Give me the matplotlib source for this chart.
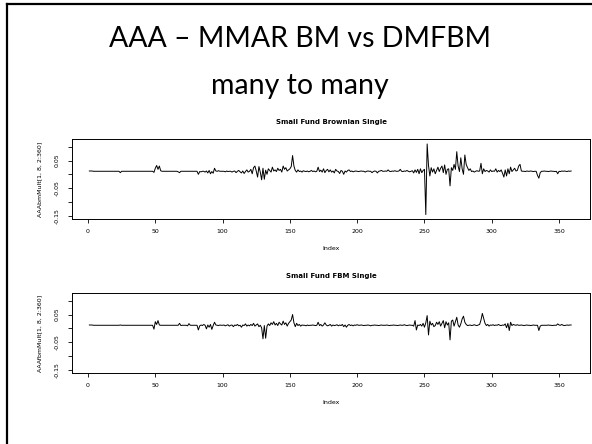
import matplotlib
matplotlib.use("Agg")
import matplotlib.pyplot as plt
from matplotlib.lines import Line2D
import numpy as np

# --- Daten (Werte x 1000) ---
bm_vals = [
    12, 12, 12, 11, 11, 11, 11, 11, 11, 11, 11, 11, 11, 11, 11, 11, 11, 11, 11, 11,
    11, 11, 11, 6, 11, 11, 11, 11, 11, 11, 11, 11, 11, 11, 11, 11, 11, 11, 11, 11,
    11, 11, 11, 11, 11, 11, 11, 11, 7, 22, 32, 18, 30, 13, 11, 11, 11, 11, 11, 11,
    11, 11, 11, 11, 11, 11, 9, 6, 11, 11, 11, 11, 11, 11, 11, 11, 11, 11, 11, 11,
    11, 0, 10, 9, 11, 11, 8, 12, 5, 14, 2, 10, 4, 22, 12, 11, 13, 11, 11, 11,
    11, 9, 12, 10, 11, 11, 8, 11, 12, 6, 11, 14, 9, 5, 12, 3, 10, 16, 8, 11,
    18, 2, 24, 30, 12, -10, 28, 8, -20, 22, -18, 15, 0, 20, 14, 8, 26, 12, 16, 10,
    22, 14, 18, 8, 30, 18, 24, 12, 16, 20, 28, 68, 30, 14, 8, 16, 10, 12, 8, 13,
    11, 10, 12, 9, 11, 14, 10, 12, 9, 11, 26, 10, 15, 8, 20, 6, 14, 18, 9, 16,
    8, 12, 5, 18, 12, 10, 3, 14, 11, 0, 12, 8, 14, 16, 10, 12, 9, 11, 12, 11,
    10, 11, 12, 11, 11, 8, 11, 12, 11, 11, 6, 10, 12, 11, 5, 11, 12, 14, 11, 11,
    12, 11, 16, 11, 10, 12, 11, 13, 11, 11, 12, 18, 11, 10, 12, 11, 14, 11, 9, 11,
    13, 5, 16, 7, 18, 2, 20, 6, 14, 18, -146, 110, 32, -6, 24, 8, 20, 2, 14, 26,
    10, 22, 30, 6, 34, 0, 18, 20, -42, 24, 14, 36, 18, 82, 30, 10, 60, 20, 0, 70,
    36, 24, 14, 20, 10, 12, 8, 11, 13, 11, 12, 40, 2, 20, 10, 14, 12, 8, 16, 10,
    12, 11, 20, 8, 14, 10, 16, 4, -10, 16, -6, 20, 2, 26, 10, 16, 22, 12, 14, 30,
    36, 12, 11, 11, 10, 12, 11, 11, 12, 11, 10, 11, 11, -4, -14, 6, 11, 11, 12, 11,
    11, 10, 11, 12, 11, 11, 10, 11, 2, 11, 10, 12, 11, 12, 11, 10, 12, 11, 12,
]

fbm_vals = [
    12, 12, 12, 11, 11, 11, 11, 11, 11, 11, 11, 11, 11, 11, 11, 11, 11, 11, 11, 11,
    11, 11, 11, 12, 11, 11, 11, 11, 11, 11, 11, 11, 11, 11, 11, 11, 11, 11, 11, 11,
    11, 11, 11, 11, 11, 11, 11, 11, -3, 24, 14, 28, 12, 11, 11, 11, 11, 11, 11, 11,
    11, 11, 11, 11, 11, 11, 11, 18, 10, 11, 11, 11, 11, 9, 17, 11, 11, 11, 11, 11,
    11, -6, 9, 12, 10, 14, 11, -2, 12, 4, 14, -4, 10, 22, 12, 11, 10, 12, 11, 11,
    12, 9, 11, 13, 8, 11, 12, 6, 12, 10, 14, 9, 11, 4, 12, 10, 16, 8, 12, 9,
    14, 10, 18, 8, 12, 16, 6, 11, 2, -38, 10, -36, 8, 16, 10, 20, 14, 24, 12, 18,
    10, 22, 16, 12, 26, 14, 20, 8, 18, 24, 30, 50, 20, 6, 18, 10, 14, 8, 12, 11,
    11, 9, 12, 10, 11, 11, 12, 11, 10, 11, 22, 10, 14, 8, 12, 20, 12, 9, 11, 14,
    8, 12, 10, 11, 13, 9, 12, 10, 14, 6, 12, 4, 11, 14, 10, 12, 9, 12, 11, 13,
    11, 11, 12, 11, 10, 11, 11, 12, 11, 9, 11, 11, 12, 11, 11, 10, 11, 12, 11, 11,
    11, 12, 11, 10, 11, 11, 12, 11, 11, 10, 11, 12, 11, 11, 13, 11, 10, 11, 12, 11,
    11, 8, 28, -6, 12, 10, 14, 8, 18, 4, 20, 46, -24, 26, 12, 18, 6, 10, 22, 14,
    24, 8, 18, 28, 2, 24, 12, 20, -42, 26, 30, 8, 24, 40, 12, 4, 16, 34, 44, 22,
    14, 10, 11, 12, 10, 11, 13, 11, 10, 12, 14, 30, 54, 36, 18, 10, 14, 8, 12, 11,
    13, 10, 12, 11, 14, 11, 10, 12, 11, 16, 2, 18, -8, 22, 10, 14, 12, 11, 13, 11,
    11, 12, 11, 10, 11, 12, 11, 11, 10, 11, 12, 11, 11, 11, -8, 8, 11, 11, 11, 11,
    11, 12, 11, 11, 10, 11, 11, 11, 16, 12, 11, 14, 11, 10, 11, 12, 11, 12, 12,
]

x_ticks = [0, 50, 100, 150, 200, 250, 300, 350]
y_ticks = [-0.15, -0.10, -0.05, 0.0, 0.05, 0.10]
y_ticklabels = ["-0.15", "", "-0.05", "", "0.05", ""]

panels = [
    ("Small Fund Brownian Single", "AAAbmMult[1, 8, 2:360]", bm_vals),
    ("Small Fund FBM Single", "AAAfbmMult[1, 8, 2:360]", fbm_vals),
]

# --- Layout ---
W, H = 592, 444
fig = plt.figure(figsize=(W / 100, H / 100), dpi=100)

# Folienrahmen (oben und links)
fig.add_artist(Line2D([7 / W, 7 / W], [0, 1 - 4 / H], color="black", lw=1.6))
fig.add_artist(Line2D([7 / W, 1], [1 - 4 / H, 1 - 4 / H], color="black", lw=1.6))

fig.text(300 / W, 1 - 39 / H, "AAA \u2013 MMAR BM vs DMFBM", ha="center", va="center",
         fontsize=20.5, family=["Lato", "DejaVu Sans"])
fig.text(300 / W, 1 - 86 / H, "many to many", ha="center", va="center",
         fontsize=20.5, family=["Lato", "DejaVu Sans"])

tops = [139, 293]
for (title, ylab, vals), top in zip(panels, tops):
    ax = fig.add_axes([72 / W, 1 - (top + 80) / H, 518 / W, 80 / H])
    y = np.array(vals) / 1000.0
    x = np.arange(1, len(y) + 1)
    ax.plot(x, y, color="black", lw=0.7)
    ax.set_xlim(-11.9, 373)
    ax.set_ylim(-0.162, 0.128)
    ax.set_xticks(x_ticks)
    ax.set_xticklabels([str(t) for t in x_ticks])
    ax.set_yticks(y_ticks)
    ax.set_yticklabels(y_ticklabels, rotation=90, va="center")
    ax.tick_params(direction="out", length=3, width=0.6, labelsize=4.5)
    ax.tick_params(axis="x", pad=4)
    ax.tick_params(axis="y", pad=6)
    for s in ax.spines.values():
        s.set_linewidth(0.7)
    ax.set_title(title, fontsize=5, fontweight="bold", pad=11)
    ax.set_xlabel("Index", fontsize=4.5, labelpad=9)
    ax.set_ylabel(ylab, fontsize=4.5, labelpad=9)

fig.savefig("out.png", dpi=100)
